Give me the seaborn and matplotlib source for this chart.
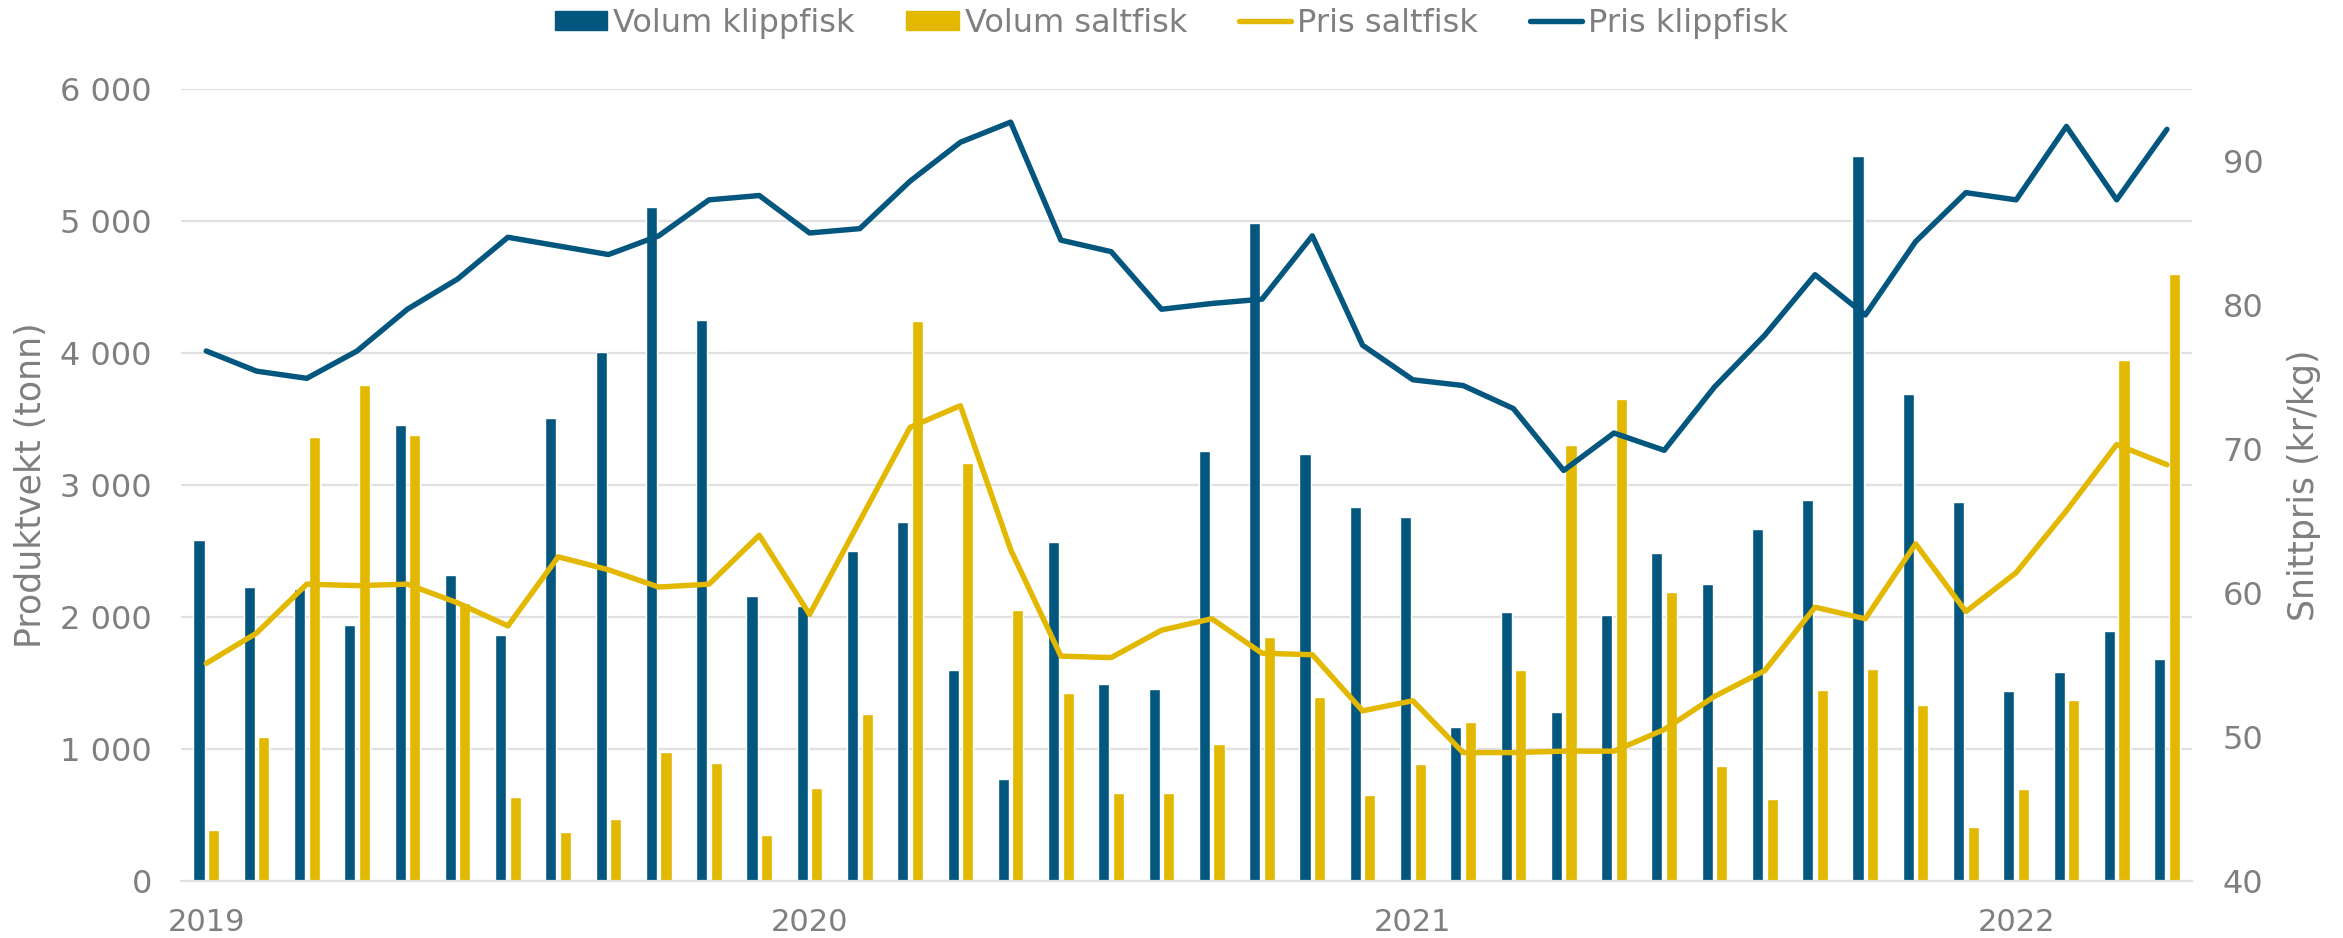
import numpy as np
import pandas as pd
import seaborn as sns
from matplotlib import pyplot as plt
from matplotlib.patches import Patch
from matplotlib.lines import Line2D
from matplotlib.ticker import FuncFormatter

# monthly data, jan 2019 - apr 2022
months = [str(p) for p in pd.period_range("2019-01", "2022-04", freq="M")]
year_labels = ["2019", "2020", "2021", "2022"]

volum_klippfisk = [2582, 2228, 2211, 1940, 3451, 2319, 1860, 3509, 4009, 5103, 4249, 2158,
                   2084, 2501, 2716, 1594, 771, 2567, 1488, 1453, 3259, 4987, 3234, 2835,
                   2754, 1167, 2034, 1276, 2016, 2481, 2246, 2663, 2883, 5495, 3686, 2868,
                   1440, 1582, 1892, 1680]
volum_saltfisk = [384, 1091, 3365, 3757, 3378, 2107, 637, 371, 468, 973, 894, 346,
                  703, 1261, 4244, 3163, 2052, 1420, 662, 662, 1034, 1849, 1390, 649,
                  882, 1205, 1594, 3302, 3651, 2186, 872, 617, 1445, 1604, 1332, 407,
                  695, 1370, 3946, 4596]
pris_klippfisk = [76.8, 75.4, 74.9, 76.8, 79.7, 81.8, 84.7, 84.1, 83.5, 84.8, 87.3, 87.6,
                  85.0, 85.3, 88.6, 91.3, 92.7, 84.5, 83.7, 79.7, 80.1, 80.4, 84.8, 77.2,
                  74.8, 74.4, 72.8, 68.5, 71.1, 69.9, 74.3, 77.9, 82.1, 79.3, 84.4, 87.8,
                  87.3, 92.4, 87.3, 92.2]
pris_saltfisk = [55.1, 57.2, 60.6, 60.5, 60.6, 59.3, 57.7, 62.5, 61.6, 60.4, 60.6, 64.0,
                 58.5, 65.0, 71.5, 73.0, 63.0, 55.6, 55.5, 57.4, 58.2, 55.8, 55.7, 51.8,
                 52.5, 48.9, 48.9, 49.0, 49.0, 50.5, 52.8, 54.6, 59.0, 58.2, 63.4, 58.7,
                 61.4, 65.7, 70.3, 68.9]

blue = "#03567E"
yellow = "#E2B800"
grey = "#7F7F7F"

sns.set_style("white")
plt.rcParams["font.family"] = ["DejaVu Sans"]

df_vol = pd.DataFrame({
    "mnd": months * 2,
    "volum": volum_klippfisk + volum_saltfisk,
    "serie": ["Volum klippfisk"] * len(months) + ["Volum saltfisk"] * len(months),
})
df_pris = pd.DataFrame({
    "idx": list(range(len(months))) * 2,
    "pris": pris_saltfisk + pris_klippfisk,
    "serie": ["Pris saltfisk"] * len(months) + ["Pris klippfisk"] * len(months),
})

fig = plt.figure(figsize=(23.43, 9.38), dpi=100)
ax = fig.add_axes([0.0773, 0.0611, 0.8583, 0.844])
ax2 = ax.twinx()

sns.barplot(data=df_vol, x="mnd", y="volum", hue="serie", order=months,
            hue_order=["Volum klippfisk", "Volum saltfisk"], palette=[blue, yellow],
            saturation=1, width=0.58, gap=0.24, errorbar=None, legend=False, ax=ax)
sns.lineplot(data=df_pris, x="idx", y="pris", hue="serie",
             hue_order=["Pris saltfisk", "Pris klippfisk"], palette=[yellow, blue],
             linewidth=3.9, legend=False, ax=ax2)

ax.set_ylim(0, 6000)
ax.set_yticks(range(0, 6001, 1000))
ax.yaxis.set_major_formatter(FuncFormatter(lambda v, p: f"{v:,.0f}".replace(",", " ")))
ax2.set_ylim(40, 95)
ax2.set_yticks(range(40, 91, 10))
ax.set_xlim(-0.5, len(months) - 0.5)
ax.set_xticks([0, 12, 24, 36])
ax.set_xticklabels(year_labels)

ax.set_axisbelow(True)
ax.grid(axis="y", color="#E0E0E0", linewidth=1.6)
ax.set_xlabel("")
ax.set_ylabel("")
ax2.set_xlabel("")
ax2.set_ylabel("")
for a in (ax, ax2):
    for s in a.spines.values():
        s.set_visible(False)
    a.tick_params(length=0, labelsize=23, labelcolor=grey)
ax.tick_params(axis="y", pad=21)
ax.tick_params(axis="x", pad=20, labelsize=22)
ax2.tick_params(axis="y", pad=22)
ax.spines["bottom"].set_visible(True)
ax.spines["bottom"].set_color("#E0E0E0")
ax.spines["bottom"].set_linewidth(1.6)

fig.text(0.0132, 0.483, "Produktvekt (tonn)", rotation=90, ha="center", va="center",
         fontsize=25, color=grey)
fig.text(0.9835, 0.483, "Snittpris (kr/kg)", rotation=90, ha="center", va="center",
         fontsize=25, color=grey)

handles = [Patch(color=blue), Patch(color=yellow),
           Line2D([], [], color=yellow, lw=3.9), Line2D([], [], color=blue, lw=3.9)]
labels = ["Volum klippfisk", "Volum saltfisk", "Pris saltfisk", "Pris klippfisk"]
leg = fig.legend(handles, labels, loc="center", bbox_to_anchor=(0.5, 0.975), ncol=4,
                 frameon=False, fontsize=23, handlelength=1.63, handleheight=0.56,
                 handletextpad=0.19, columnspacing=1.63)
for t in leg.get_texts():
    t.set_color(grey)

fig.savefig("out.png", dpi=100)
